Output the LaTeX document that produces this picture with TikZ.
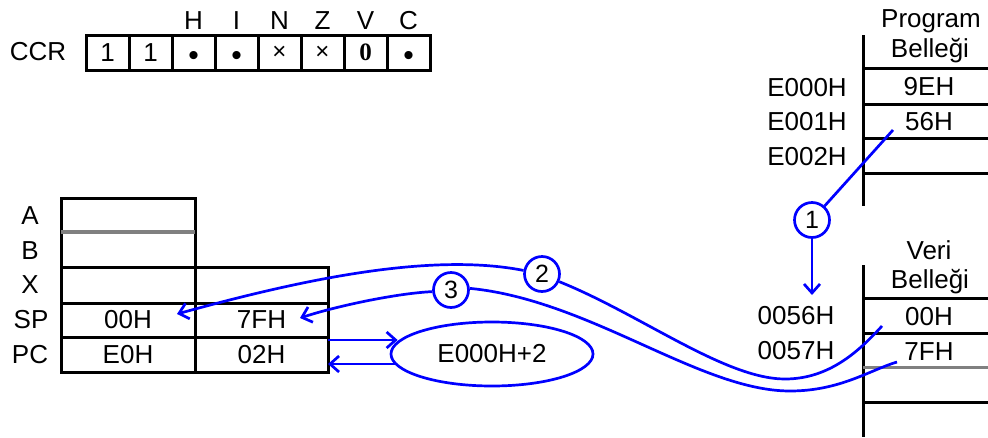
\documentclass[tikz,border=0pt]{standalone}
\usepackage{fontspec}
\setmainfont{Liberation Sans}
\newfontfamily\serifbold{Liberation Serif}
\usetikzlibrary{shapes.geometric,arrows.meta}
\begin{document}
\begin{tikzpicture}[x=1pt,y=-1pt,
  txt/.style={font=\fontsize{26}{28}\selectfont, inner sep=0pt, anchor=center},
  dot/.style={font=\fontsize{30}{30}\selectfont, inner sep=0pt, anchor=base},
  blk/.style={draw=black, line width=3pt},
  cell/.style={draw=black, line width=3pt, inner sep=0pt, outer sep=0pt,
     font=\fontsize{26}{28}\selectfont},
  ccell/.style={cell, minimum width=43pt, minimum height=35pt},
  blu/.style={draw=blue, line width=2.7pt},
  arr/.style={-{Straight Barb[length=9pt,width=16pt]}},
  num/.style={circle, draw=blue, line width=2.7pt, minimum size=35pt, inner sep=0pt,
     font=\fontsize{25}{27}\selectfont},
]
\useasboundingbox (0,0) rectangle (988,437);

% CCR register
\node[txt] (ccr) at (38,52) {CCR};
\node[ccell] (b7) at (107.5,52.5) {1};
\node[ccell] (b6) at (150.5,52.5) {1};
\node[ccell] (b5) at (193.5,52.5) {};
\node[ccell] (b4) at (236.5,52.5) {};
\node[ccell] (b3) at (279.5,52.5) {\fontsize{24}{24}\selectfont ×};
\node[ccell] (b2) at (322.5,52.5) {\fontsize{24}{24}\selectfont ×};
\node[ccell] (b1) at (365.5,52.5) {\serifbold\bfseries\fontsize{25}{26}\selectfont 0};
\node[ccell] (b0) at (408.5,52.5) {};
\node[dot] (d5) at (193.5,65) {•};
\node[dot] (d4) at (236.5,65) {•};
\node[dot] (d0) at (408.5,65) {•};
\node[txt] (fH) at (193.5,21) {H};
\node[txt] (fI) at (236.5,21) {I};
\node[txt] (fN) at (279.5,21) {N};
\node[txt] (fZ) at (322.5,21) {Z};
\node[txt] (fV) at (365.5,21) {V};
\node[txt] (fC) at (408.5,21) {C};

% CPU registers
\node[cell, minimum width=134pt, minimum height=34pt] (rA) at (128,215) {};
\node[cell, minimum width=134pt, minimum height=35pt] (rB) at (128,249.5) {};
\draw[draw=gray, line width=3.2pt] (rA.south west) -- (rA.south east);
\node[cell, minimum width=134pt, minimum height=36pt] (rXh) at (128,285) {};
\node[cell, minimum width=133pt, minimum height=36pt] (rXl) at (261.5,285) {};
\node[cell, minimum width=134pt, minimum height=34pt] (rSPh) at (128,320) {00H};
\node[cell, minimum width=133pt, minimum height=34pt] (rSPl) at (261.5,320) {7FH};
\node[cell, minimum width=134pt, minimum height=35pt] (rPCh) at (128,354.5) {E0H};
\node[cell, minimum width=133pt, minimum height=35pt] (rPCl) at (261.5,354.5) {02H};
\node[txt] (lA) at (30,216) {A};
\node[txt] (lB) at (30,251) {B};
\node[txt] (lX) at (30,285) {X};
\node[txt] (lSP) at (31,320) {SP};
\node[txt] (lPC) at (30,355) {PC};

% Program memory
\draw[blk] (863,35) -- (863,206);
\foreach \yy in {68,104,138,173} \draw[blk] (863,\yy) -- (988,\yy);
\node[txt] (pm1) at (931,21) {Program};
\node[txt] (pm2) at (930,51) {Belleği};
\node[txt] (p9e) at (929,87) {9EH};
\node[txt] (p56) at (929,122) {56H};
\node[txt] (aE0) at (807,88) {E000H};
\node[txt] (aE1) at (807,122) {E001H};
\node[txt] (aE2) at (807,157) {E002H};

% Data memory
\draw[blk] (863,265) -- (863,437);
\foreach \yy in {298,333,402} \draw[blk] (863,\yy) -- (988,\yy);
\draw[draw=gray, line width=3pt] (863,367) -- (988,367);
\node[txt] (vm1) at (929,250) {Veri};
\node[txt] (vm2) at (930,282) {Belleği};
\node[txt] (v00t) at (929,317) {00H};
\node[txt] (v7ft) at (929,352) {7FH};
\node[txt] (a56) at (796,316) {0056H};
\node[txt] (a57) at (796,351) {0057H};

% numbered circles and ellipse
\node[num] (c1) at (812,220) {1};
\node[num] (c2) at (542,274) {2};
\node[num] (c3) at (451,290) {3};
\node[ellipse, blu, minimum width=202pt, minimum height=64pt, inner sep=0pt, txt] (e) at (492,354) {E000H+2};

% connector end points
\coordinate (m56) at (893,130);
\coordinate (d56) at (812,295);
\coordinate (v00) at (882,326);
\coordinate (v7f) at (897,362);
\coordinate (t00) at (177,314);
\coordinate (t7f) at (300,318);

% connectors
\draw[blu] (m56) -- (c1);
\draw[blu,arr] (c1) -- (d56);
\draw[blu] (c2.-24) .. controls (640,314) and (725,379) .. (785,379)
   .. controls (830,379) and (860,350) .. (v00);
\draw[blu,arr] (c2.169) .. controls (430,252) and (300,280) .. (t00);
\draw[blu] (c3.5) .. controls (590,300) and (700,391) .. (790,391)
   .. controls (840,391) and (870,370) .. (v7f);
\draw[blu,arr] (c3.185) .. controls (400,293) and (340,305) .. (t7f);
\draw[blu,arr] ([yshift=-3pt]rPCl.north east) -- ([xshift=8pt,yshift=14pt]e.west);
\draw[blu,arr] ([xshift=5pt,yshift=-10pt]e.west) -- ([yshift=-27pt]rPCl.north east);
\end{tikzpicture}
\end{document}
